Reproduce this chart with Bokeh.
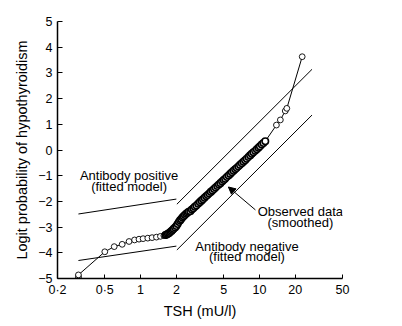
from bokeh.plotting import figure
from bokeh.models import (Range1d, FixedTicker, Label, Arrow, NormalHead, ColumnDataSource,
                          CDSView, IndexFilter)
from bokeh.embed import file_html
from bokeh.resources import INLINE

# ---- data ----
obs_tsh = [0.30, 0.30, 0.30, 0.50, 0.60, 0.70, 0.80, 0.89, 0.97, 1.05, 1.15, 1.25, 1.36, 1.47, 1.57,
           1.62, 1.66, 1.70, 1.74, 1.78, 1.82, 1.86, 1.90, 1.95, 2.00, 2.05, 2.10, 2.15, 2.20, 2.25,
           2.30, 2.36, 2.42, 2.48, 2.54, 2.62, 2.70, 2.78, 2.86, 2.95, 3.05, 3.15, 3.25, 3.35, 3.45,
           3.56, 3.67, 3.78, 3.90, 4.02, 4.15, 4.28, 4.42, 4.56, 4.70, 4.85, 5.00, 5.15, 5.32, 5.50,
           5.68, 5.86, 6.05, 6.25, 6.45, 6.65, 6.87, 7.10, 7.33, 7.57, 7.82, 8.08, 8.35, 8.62, 8.90,
           9.20, 9.50, 9.80, 10.1, 10.45, 10.8, 11.2, 13.9, 15.0, 16.5, 17.0, 22.9]
obs_logit = [-5.00, -4.93, -4.86, -3.96, -3.76, -3.67, -3.56, -3.50, -3.47, -3.45, -3.43, -3.41, -3.39, -3.36, -3.33,
             -3.31, -3.29, -3.26, -3.23, -3.19, -3.15, -3.11, -3.07, -3.02, -2.96, -2.88, -2.80, -2.74, -2.69, -2.63,
             -2.58, -2.53, -2.48, -2.44, -2.40, -2.38, -2.32, -2.27, -2.21, -2.16, -2.09, -2.03, -1.97, -1.92, -1.86,
             -1.80, -1.75, -1.69, -1.63, -1.58, -1.52, -1.46, -1.40, -1.34, -1.29, -1.23, -1.17, -1.12, -1.05, -0.99,
             -0.93, -0.87, -0.81, -0.75, -0.70, -0.64, -0.58, -0.52, -0.46, -0.40, -0.34, -0.27, -0.21, -0.15, -0.09,
             -0.03, 0.03, 0.09, 0.14, 0.21, 0.27, 0.34, 0.97, 1.17, 1.52, 1.62, 3.63]
dense_first, dense_last = 15, 81   # indices of the tightly packed (overlapping) observations

pos_low_tsh = [0.30, 2.0]
pos_low_logit = [-2.49, -1.91]
pos_high_tsh = [2.02, 27.7]
pos_high_logit = [-2.11, 3.14]
neg_low_tsh = [0.30, 2.0]
neg_low_logit = [-4.30, -3.74]
neg_high_tsh = [2.02, 27.7]
neg_high_logit = [-3.89, 1.36]

x_ticks = [0.2, 0.5, 1, 2, 5, 10, 20, 50]
x_tick_labels = ["0·2", "0·5", "1", "2", "5", "10", "20", "50"]
y_ticks = [-5, -4, -3, -2, -1, 0, 1, 2, 3, 4, 5]
y_tick_labels = ["−5", "−4", "−3", "−2", "−1", "0", "1", "2", "3", "4", "5"]

FONT = "Liberation Sans"

p = figure(width=402, height=326, x_axis_type="log",
           x_range=Range1d(0.2, 50), y_range=Range1d(-5, 5),
           output_backend="svg", toolbar_location=None,
           min_border_left=57, min_border_right=60, min_border_top=21, min_border_bottom=48)
p.grid.visible = False
p.outline_line_color = None
p.background_fill_color = "white"
p.border_fill_color = "white"

# fitted model lines
for xs, ys in [(pos_low_tsh, pos_low_logit), (pos_high_tsh, pos_high_logit),
               (neg_low_tsh, neg_low_logit), (neg_high_tsh, neg_high_logit)]:
    p.line(xs, ys, line_color="black", line_width=1)

# observed data
src = ColumnDataSource(dict(x=obs_tsh, y=obs_logit))
n = len(obs_tsh)
dense_idx = list(range(dense_first, dense_last + 1))
sparse_idx = [i for i in range(n) if i < dense_first or i > dense_last]
p.line("x", "y", source=src, line_color="black", line_width=1)
p.scatter("x", "y", source=src, view=CDSView(filter=IndexFilter(sparse_idx)),
          marker="circle", size=5.8, fill_color="white", line_color="black", line_width=0.9)
p.scatter("x", "y", source=src, view=CDSView(filter=IndexFilter(dense_idx)),
          marker="circle", size=6.5, fill_color="white", line_color="black", line_width=1.6)

# annotations
def lab(x, y, t):
    p.add_layout(Label(x=x, y=y, text=t, text_align="center", text_baseline="middle",
                       text_font=FONT, text_font_size="13px", text_color="black"))

lab(0.80, -1.0, "Antibody positive")
lab(0.80, -1.43, "(fitted model)")
lab(22.1, -2.41, "Observed data")
lab(22.1, -2.84, "(smoothed)")
lab(7.85, -3.76, "Antibody negative")
lab(7.85, -4.16, "(fitted model)")

p.add_layout(Arrow(end=NormalHead(size=7, fill_color="black", line_color="black"),
                   x_start=9.25, y_start=-2.33, x_end=5.48, y_end=-1.44,
                   line_color="black", line_width=1))

# axes
xa = p.xaxis[0]
xa.ticker = FixedTicker(ticks=x_ticks, minor_ticks=[])
xa.major_label_overrides = {t: l for t, l in zip(x_ticks, x_tick_labels)}
xa.major_tick_in = 4
xa.major_tick_out = 0
xa.minor_tick_line_color = None
xa.major_label_standoff = 4
xa.axis_label = "TSH (mU/l)"
xa.axis_label_standoff = 3

ya = p.yaxis[0]
ya.ticker = FixedTicker(ticks=y_ticks, minor_ticks=[])
ya.major_label_overrides = {t: l for t, l in zip(y_ticks, y_tick_labels)}
ya.major_tick_in = 5
ya.major_tick_out = 0
ya.minor_tick_line_color = None
ya.major_label_standoff = 5
ya.axis_label = "Logit probability of hypothyroidism"
ya.axis_label_standoff = 5

for ax in (xa, ya):
    ax.axis_line_color = "black"
    ax.axis_line_width = 1.5
    ax.major_tick_line_color = "black"
    ax.major_tick_line_width = 1
    ax.major_label_text_font = FONT
    ax.major_label_text_font_size = "12.5px"
    ax.major_label_text_color = "black"
    ax.axis_label_text_font = FONT
    ax.axis_label_text_font_size = "14.5px"
    ax.axis_label_text_font_style = "normal"
    ax.axis_label_text_color = "black"

open("out.html", "w").write(file_html(p, INLINE))
